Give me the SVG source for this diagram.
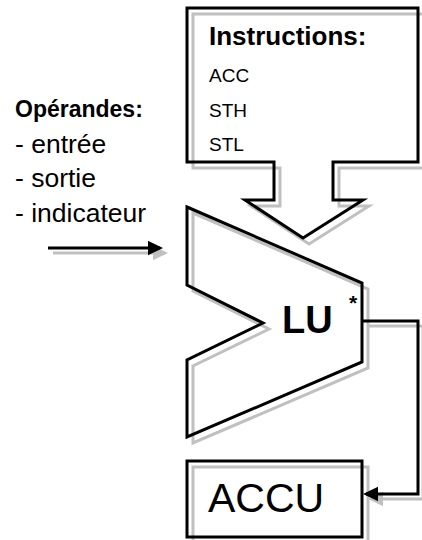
<svg xmlns="http://www.w3.org/2000/svg" width="422" height="540" viewBox="0 0 422 540">
<style>
.sh{fill:none;stroke:#c0c0c0;stroke-width:3}
.ln{fill:none;stroke:#000;stroke-width:3}
text{font-family:"Liberation Sans",Arial,sans-serif;fill:#000}
.b{font-weight:bold}
</style>
<defs>
<marker id="ah" markerWidth="5" markerHeight="5" refX="4" refY="2.4" orient="auto" markerUnits="strokeWidth"><path d="M0,0 L5,2.4 L0,4.8 Z" fill="#000"/></marker>
<marker id="ahg" markerWidth="5" markerHeight="5" refX="4" refY="2.4" orient="auto" markerUnits="strokeWidth"><path d="M0,0 L5,2.4 L0,4.8 Z" fill="#c0c0c0"/></marker>
</defs>
<g id="operandes">
<text class="b" x="15" y="117" font-size="23">Opérandes:</text>
<text x="15" y="153" font-size="26.5">- entrée</text>
<text x="15" y="187" font-size="26.5">- sortie</text>
<text x="15" y="222" font-size="26.5">- indicateur</text>
</g>
<g id="instructions">
<path class="sh" transform="translate(6,6)" d="M187,8 H418 V162 H333 V200 H363 L303,238 L245,200 H274 V162 H187 Z"/>
<path class="ln" d="M187,8 H418 V162 H333 V200 H363 L303,238 L245,200 H274 V162 H187 Z"/>
<text class="b" x="209" y="45" font-size="26">Instructions:</text>
<text x="209" y="82" font-size="19">ACC</text>
<text x="209" y="117" font-size="19">STH</text>
<text x="209" y="151" font-size="19">STL</text>
</g>
<g id="lu">
<path class="sh" transform="translate(6,6)" d="M187,207 L362,283 V362 L187,437 V360 L263,323 L187,285 Z"/>
<path class="ln" d="M187,207 L362,283 V362 L187,437 V360 L263,323 L187,285 Z"/>
<text class="b" x="282" y="333" font-size="38">LU</text>
<text class="b" x="349" y="310" font-size="21">*</text>
</g>
<g id="accu">
<rect class="sh" x="193" y="467" width="175" height="76"/>
<rect class="ln" x="187" y="461" width="175" height="76"/>
<text x="208" y="512" font-size="41">ACCU</text>
</g>
<g id="connectors">
<path class="sh" transform="translate(5,5)" d="M48,248 H160" marker-end="url(#ahg)"/>
<path class="ln" d="M48,248 H160" marker-end="url(#ah)"/>
<path class="sh" transform="translate(5,5)" d="M362,321 H418 V494 H366" marker-end="url(#ahg)"/>
<path class="ln" d="M362,321 H418 V494 H366" marker-end="url(#ah)"/>
</g>
</svg>
